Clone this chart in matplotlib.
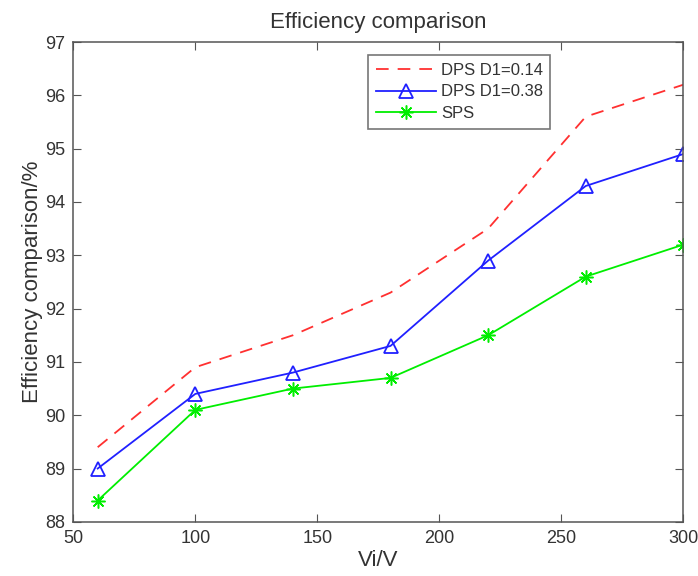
import numpy as np
import matplotlib.pyplot as plt

plt.rcParams['font.family'] = ['Liberation Sans', 'DejaVu Sans']

vi = [60, 100, 140, 180, 220, 260, 300]
dps_014 = [89.4, 90.9, 91.5, 92.3, 93.5, 95.6, 96.2]
dps_038 = [89.0, 90.4, 90.8, 91.3, 92.9, 94.3, 94.9]
sps = [88.4, 90.1, 90.5, 90.7, 91.5, 92.6, 93.2]

fig = plt.figure(figsize=(6.98, 5.76), dpi=100)
ax = fig.add_axes([0.105, 0.094, 0.874, 0.833])

ax.plot(vi, dps_014, color='#ff3030', linestyle=(0, (7, 5)), linewidth=1.3, label='DPS D1=0.14')
ax.plot(vi, dps_038, color='#2020ff', linewidth=1.3, marker='^', markersize=10,
        markerfacecolor='none', markeredgewidth=1.3, label='DPS D1=0.38')
# MATLAB-style asterisk (8 spokes, lines only)
ax.plot(vi, sps, color='#00ee00', linewidth=1.3, marker=(8, 2, 0), markersize=10,
        markeredgewidth=1.1, label='SPS')

ax.set_xlim(50, 300)
ax.set_ylim(88, 97)
ax.set_xticks(np.arange(50, 301, 50))
ax.set_yticks(np.arange(88, 98, 1))

txt = '#333333'
ax.tick_params(direction='in', top=True, right=True, length=6, labelsize=13, colors='#555555', labelcolor=txt, pad=6)
for s in ax.spines.values():
    s.set_color('#555555')
    s.set_linewidth(1.1)

ax.set_title('Efficiency comparison', fontsize=16, color=txt, pad=10)
ax.set_xlabel('Vi/V', fontsize=16, color=txt, labelpad=2)
ax.set_ylabel('Efficiency comparison/%', fontsize=16, color=txt, labelpad=1)

leg = ax.legend(loc='upper left', bbox_to_anchor=(0.47, 0.99), fontsize=12, frameon=True,
                fancybox=False, edgecolor='#555555', handlelength=3.6, borderpad=0.45,
                labelspacing=0.4, handletextpad=0.3)
leg.get_frame().set_linewidth(1.2)
for t in leg.get_texts():
    t.set_color(txt)

fig.savefig('out.png', dpi=100)
